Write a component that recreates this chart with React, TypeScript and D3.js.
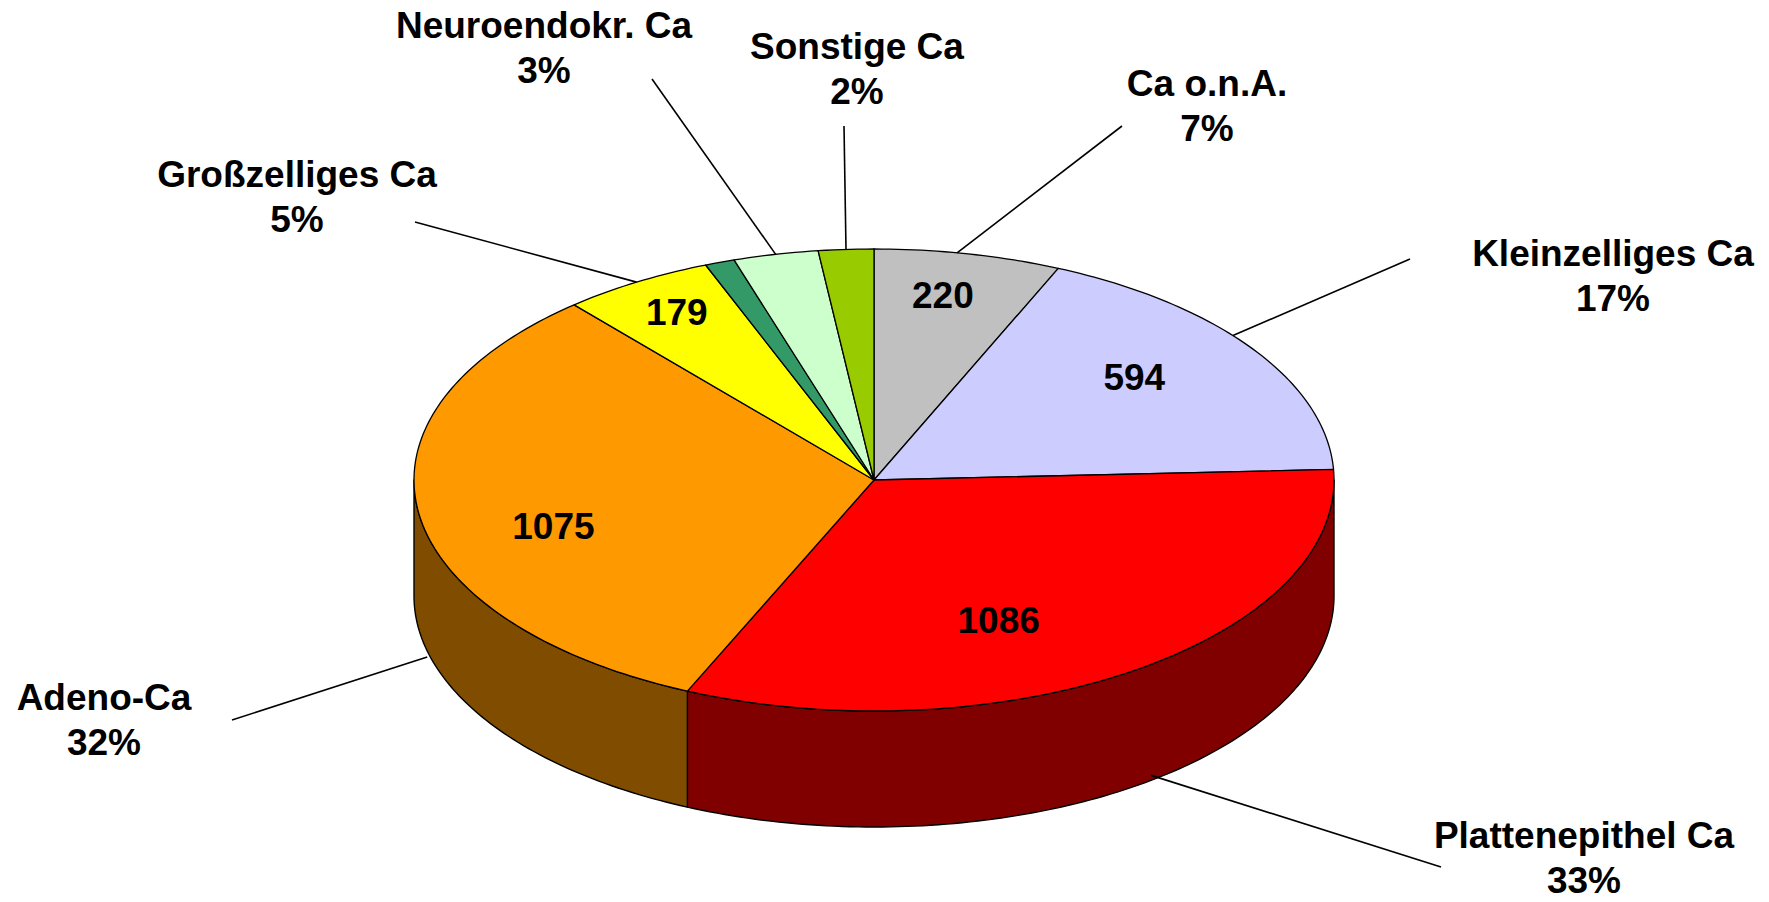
import React from 'react';
import * as d3 from 'd3';

// Histologie – Verteilung (3D-Torte)
const categories = ['Ca o.n.A.', 'Kleinzelliges Ca', 'Plattenepithel Ca', 'Adeno-Ca', 'Großzelliges Ca', '', 'Neuroendokr. Ca', 'Sonstige Ca'];
const values = [220, 594, 1086, 1075, 179, 35, 100, 65];
const percentLabels = ['7%', '17%', '33%', '32%', '5%', '', '3%', '2%'];
const valueShown = [true, true, true, true, true, false, false, false];
const colors = ['#C0C0C0', '#CCCCFF', '#FF0000', '#FF9900', '#FFFF00', '#339966', '#CCFFCC', '#99CC00'];

// layout
const W = 1769;
const H = 902;
const cx = 874;
const cy = 480;
const rx = 460;
const ry = 231;
const depth = 116;
const fontSize = 37;
const lineGap = 45;

// category label: centre x, first baseline y
const labelPos = [[1207, 96], [1613, 266], [1584, 848], [104, 710], [297, 187], null, [544, 38], [857, 59]];
// outer end of the leader line
const leaderStart = [[1122, 126], [1410, 259], [1441, 867], [232, 720], [415, 222], null, [652, 79], [844, 126]];
// where the leader meets the pie: angle shift (deg) from the slice middle, and drop onto the side wall
const leaderShift = [-1.4, -4.2, -2.7, -5.4, 0, 0, 0, 0];
const leaderDrop = [0, 0, 111, 122, 0, 0, 0, 0];
// value label nudges from the 0.7 radius point
const valueNudge = [[3, -27], [-5, -12], [-57, 6], [-2, 22], [-31, -30], [0, 0], [0, 0], [0, 0]];

const px = (a: number, k = 1) => cx + rx * k * Math.sin(a);
const py = (a: number, k = 1) => cy - ry * k * Math.cos(a);

function arcPoints(a0: number, a1: number, dy = 0): [number, number][] {
  const n = Math.max(2, Math.ceil(((a1 - a0) / (2 * Math.PI)) * 360));
  return d3.range(n + 1).map((i) => {
    const a = a0 + ((a1 - a0) * i) / n;
    return [px(a), py(a) + dy] as [number, number];
  });
}

export default function App() {
  const pie = d3.pie<number>().sort(null).value((d) => d);
  const arcs = pie(values);
  const line = d3.line();

  const sides = arcs.map((d, i) => {
    const s = Math.max(d.startAngle, Math.PI / 2);
    const e = Math.min(d.endAngle, (3 * Math.PI) / 2);
    if (s >= e) return null;
    const top = arcPoints(s, e);
    const bottom = arcPoints(s, e, depth).reverse();
    const c = d3.rgb(colors[i]);
    const dark = d3.rgb(c.r * 0.5, c.g * 0.5, c.b * 0.5).formatHex();
    return (
      <path key={'s' + i} d={line([...top, ...bottom])! + 'Z'} fill={dark} stroke="#000" strokeWidth={1.4} strokeLinejoin="round" />
    );
  });

  const tops = arcs.map((d, i) => {
    const pts: [number, number][] = [[cx, cy], ...arcPoints(d.startAngle, d.endAngle)];
    return <path key={'t' + i} d={line(pts)! + 'Z'} fill={colors[i]} stroke="#000" strokeWidth={1.3} strokeLinejoin="round" />;
  });

  const leaders = arcs.map((d, i) => {
    if (!leaderStart[i]) return null;
    const a = (d.startAngle + d.endAngle) / 2 + (leaderShift[i] * Math.PI) / 180;
    return (
      <line key={'l' + i} x1={leaderStart[i]![0]} y1={leaderStart[i]![1]} x2={px(a)} y2={py(a) + leaderDrop[i]} stroke="#000" strokeWidth={1.6} />
    );
  });

  const labels = categories.map((c, i) => {
    if (!labelPos[i]) return null;
    const [x, y] = labelPos[i]!;
    return (
      <text key={'c' + i} x={x} textAnchor="middle">
        <tspan x={x} y={y}>{c}</tspan>
        <tspan x={x} y={y + lineGap}>{percentLabels[i]}</tspan>
      </text>
    );
  });

  const valueLabels = arcs.map((d, i) => {
    if (!valueShown[i]) return null;
    const mid = (d.startAngle + d.endAngle) / 2;
    return (
      <text key={'v' + i} x={px(mid, 0.7) + valueNudge[i][0]} y={py(mid, 0.7) + valueNudge[i][1]} dy="0.36em" textAnchor="middle">
        {values[i]}
      </text>
    );
  });

  return (
    <svg width={W} height={H} style={{ position: 'absolute', left: 0, top: 0, display: 'block', background: '#fff' }}
      fontFamily="'Liberation Sans', Arial, sans-serif" fontWeight="bold" fontSize={fontSize}>
      <g>{sides}</g>
      <g>{tops}</g>
      <g>{leaders}</g>
      <g>{valueLabels}</g>
      <g>{labels}</g>
    </svg>
  );
}
